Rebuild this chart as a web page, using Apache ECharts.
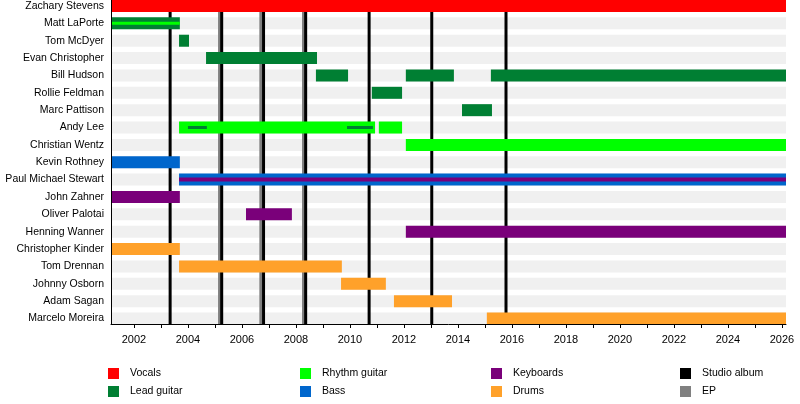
<!DOCTYPE html>
<html>
<head>
<meta charset="utf-8">
<script src="https://cdn.jsdelivr.net/npm/echarts@6/dist/echarts.min.js"></script>
<style>
  html, body { margin: 0; padding: 0; background: #fff; }
  #chart { width: 800px; height: 404px; }
</style>
</head>
<body>
<div id="chart"></div>
<script>
// band members, top to bottom
var members = ['Zachary Stevens', 'Matt LaPorte', 'Tom McDyer', 'Evan Christopher', 'Bill Hudson',
    'Rollie Feldman', 'Marc Pattison', 'Andy Lee', 'Christian Wentz', 'Kevin Rothney',
    'Paul Michael Stewart', 'John Zahner', 'Oliver Palotai', 'Henning Wanner', 'Christopher Kinder',
    'Tom Drennan', 'Johnny Osborn', 'Adam Sagan', 'Marcelo Moreira'];

// [row, from, to]
var vocals = [[0, 2001.15, 2026.15]];
var leadGuitar = [[1, 2001.15, 2003.70], [2, 2003.67, 2004.04], [3, 2004.67, 2008.78],
    [4, 2008.74, 2009.93], [4, 2012.07, 2013.85], [4, 2015.22, 2026.15],
    [5, 2010.81, 2011.93], [6, 2014.15, 2015.26]];
var rhythmGuitar = [[7, 2003.67, 2010.93], [7, 2011.07, 2011.93], [8, 2012.07, 2026.15]];
var bass = [[9, 2001.15, 2003.70], [10, 2003.67, 2026.15]];
var keyboards = [[11, 2001.15, 2003.70], [12, 2006.15, 2007.85], [13, 2012.07, 2026.15]];
var drums = [[14, 2001.15, 2003.70], [15, 2003.67, 2009.70], [16, 2009.67, 2011.33],
    [17, 2011.63, 2013.78], [18, 2015.07, 2026.15]];

// thin second-role stripes drawn inside a bar
var leadStripes = [[7, 2004.00, 2004.70], [7, 2009.89, 2010.85]];
var rhythmStripes = [[1, 2001.15, 2003.70]];
var keyboardStripes = [[10, 2003.67, 2026.15]];

var studioAlbums = [2003.34, 2005.25, 2006.80, 2008.36, 2010.71, 2013.03, 2015.78];
var eps = [2005.17, 2006.70, 2008.28];

var yearLabels = [2002, 2004, 2006, 2008, 2010, 2012, 2014, 2016, 2018, 2020, 2022, 2024, 2026];
var yearTicks = [2002, 2003, 2004, 2005, 2006, 2007, 2008, 2009, 2010, 2011, 2012, 2013, 2014,
    2015, 2016, 2017, 2018, 2019, 2020, 2021, 2022, 2023, 2024, 2025, 2026];

var FONT = 'Liberation Sans, Arial, sans-serif';

function barSeries(name, color, spans, h) {
    return {
        name: name,
        type: 'custom',
        silent: true,
        itemStyle: {color: color},
        encode: {x: [1, 2], y: 0},
        data: spans,
        renderItem: function (params, api) {
            var a = api.coord([api.value(1), api.value(0)]);
            var b = api.coord([api.value(2), api.value(0)]);
            return {
                type: 'rect',
                shape: {x: a[0], y: a[1] - h / 2, width: b[0] - a[0], height: h},
                style: {fill: color}
            };
        }
    };
}

function lineSeries(name, color, xs, w) {
    return {
        name: name,
        type: 'custom',
        silent: true,
        itemStyle: {color: color},
        encode: {x: 0},
        data: xs.map(function (v) { return [v]; }),
        renderItem: function (params, api) {
            var x = api.coord([api.value(0), 0])[0];
            var cs = params.coordSys;
            return {
                type: 'line',
                shape: {x1: x, y1: cs.y, x2: x, y2: cs.y + cs.height},
                style: {stroke: color, lineWidth: w}
            };
        }
    };
}

var bands = {
    type: 'custom',
    silent: true,
    encode: {y: 0},
    data: members.map(function (m, i) { return [i]; }),
    renderItem: function (params, api) {
        var cs = params.coordSys;
        var y = api.coord([2010, api.value(0)])[1];
        return {
            type: 'rect',
            shape: {x: cs.x, y: y - 6, width: cs.width, height: 12},
            style: {fill: '#f0f0f0'}
        };
    }
};

function legendCol(left, names) {
    return {
        left: left, top: 363,
        orient: 'vertical',
        itemWidth: 11, itemHeight: 11, itemGap: 7,
        icon: 'rect',
        selectedMode: false,
        textStyle: {fontFamily: FONT, fontSize: 10.5, color: '#000', padding: [0, 0, 0, 6]},
        data: names
    };
}

var option = {
    animation: false,
    grid: {left: 111, right: 14, top: 0, bottom: 80},
    legend: [
        legendCol(103, ['Vocals', 'Lead guitar']),
        legendCol(295, ['Rhythm guitar', 'Bass']),
        legendCol(486, ['Keyboards', 'Drums']),
        legendCol(675, ['Studio album', 'EP'])
    ],
    xAxis: {
        type: 'value',
        z: 10,
        min: 2001.15,
        max: 2026.15,
        splitLine: {show: false},
        axisLine: {onZero: false, lineStyle: {color: '#000', width: 1}},
        axisTick: {show: true, length: 4, customValues: yearTicks, lineStyle: {color: '#000'}},
        axisLabel: {
            customValues: yearLabels,
            margin: 10,
            fontFamily: FONT, fontSize: 11, color: '#000',
            formatter: function (v) { return String(v); }
        }
    },
    yAxis: {
        type: 'value',
        z: 10,
        inverse: true,
        min: -0.3456,
        max: 18.317,
        splitLine: {show: false},
        axisLine: {show: true, onZero: false, lineStyle: {color: '#000', width: 1}},
        axisTick: {show: false},
        axisLabel: {
            customValues: members.map(function (m, i) { return i; }),
            margin: 7,
            fontFamily: FONT, fontSize: 10.5, color: '#000',
            formatter: function (v) { return members[Math.round(v)]; }
        }
    },
    series: [
        bands,
        lineSeries('EP', '#808080', eps, 3),
        lineSeries('Studio album', '#000000', studioAlbums, 3),
        barSeries('Vocals', '#ff0000', vocals, 12),
        barSeries('Lead guitar', '#007f33', leadGuitar, 12),
        barSeries('Rhythm guitar', '#00ff00', rhythmGuitar, 12),
        barSeries('Bass', '#0066cc', bass, 12),
        barSeries('Keyboards', '#7a007a', keyboards, 12),
        barSeries('Drums', '#ffa12a', drums, 12),
        barSeries('Lead guitar', '#007f33', leadStripes, 3),
        barSeries('Rhythm guitar', '#00ff00', rhythmStripes, 3),
        barSeries('Keyboards', '#7a007a', keyboardStripes, 4)
    ]
};

var chart = echarts.init(document.getElementById('chart'));
chart.setOption(option);
</script>
</body>
</html>
